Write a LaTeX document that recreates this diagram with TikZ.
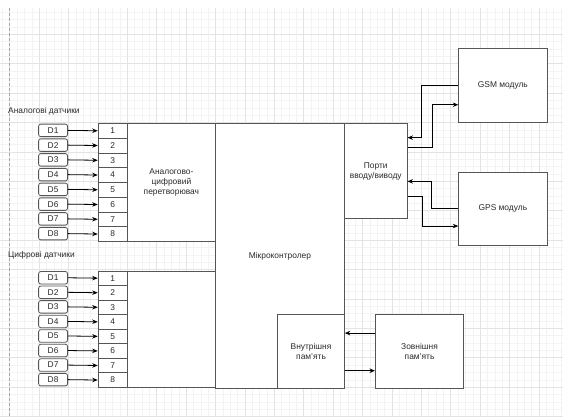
\documentclass[tikz,border=0pt]{standalone}
\usepackage{fontspec}
\setmainfont{Liberation Sans}
\usetikzlibrary{arrows.meta}
\definecolor{gridminor}{HTML}{F3F3F3}
\definecolor{gridmajor}{HTML}{E3E3E3}
\definecolor{boxline}{HTML}{555555}
\definecolor{txt}{HTML}{2A2A2A}
\tikzset{
  base/.style={draw=boxline, line width=0.8pt, fill=white, inner sep=0pt, anchor=north west,
    text=txt, font=\fontsize{8.4}{10}\selectfont, align=center},
  sensor/.style={base, rounded corners=2.2pt, minimum width=29pt, minimum height=12.5pt},
  pin/.style={base, minimum width=29.3pt},
  arr/.style={draw=black, line width=0.8pt, -{Stealth[length=5.5pt,width=4.5pt]}},
  lbl/.style={inner sep=0pt, anchor=west, text=txt, font=\fontsize{8.4}{10}\selectfont},
}
\begin{document}
\begin{tikzpicture}[x=1pt,y=-1pt]
\useasboundingbox (0,0) rectangle (563,416);
\fill[white] (0,0) rectangle (563,416);
\begin{scope}
\clip (0,8) rectangle (563,416);
\foreach \i in {-1,...,76} \draw[gridminor, line width=0.5pt] ({9.7+7.35*\i},8) -- ({9.7+7.35*\i},416);
\foreach \j in {-3,...,53} \draw[gridminor, line width=0.5pt] (0,{34.3+7.35*\j}) -- (563,{34.3+7.35*\j});
\foreach \k in {0,...,19} \draw[gridmajor, line width=0.6pt] ({9.7+29.4*\k},8) -- ({9.7+29.4*\k},416);
\foreach \k in {0,...,13} \draw[gridmajor, line width=0.6pt] (0,{34.3+29.4*\k}) -- (563,{34.3+29.4*\k});
\end{scope}
\draw[gray!70, line width=0.6pt, dash pattern=on 3pt off 2pt] (9.5,8) -- (9.5,416);

% labels
\node[lbl] (alab) at (8,111) {Аналогові датчики};
\node[lbl] (dlab) at (8,255.7) {Цифрові датчики};

% analog sensors
\foreach \i in {1,...,8} {
  \node[pin, minimum height=14.75pt] (ap\i) at (97.7,{123+14.75*(\i-1)}) {\i};
  \node[sensor, anchor=east] (as\i) at (68,{123+14.75*(\i-0.5)}) {D\i};
  \draw[arr] (as\i.east) -- (ap\i.west);
}
\node[base, minimum width=88pt, minimum height=118pt] (adc) at (127,123) {Аналогово-\\цифровий\\перетворювач};

% digital sensors
\foreach \i in {1,...,8} {
  \node[pin, minimum height=14.55pt] (dp\i) at (97.7,{270.5+14.55*(\i-1)}) {\i};
  \node[sensor, anchor=east] (ds\i) at (68,{270.5+14.55*(\i-0.5)}) {D\i};
  \draw[arr] (ds\i.east) -- (dp\i.west);
}
\node[base, minimum width=88pt, minimum height=116.4pt] (dig) at (127,270.5) {};

% microcontroller
\node[base, minimum width=129pt, minimum height=265pt] (mcu) at (215,123) {Мікроконтролер};
\node[base, minimum width=62.7pt, minimum height=95.3pt] (ports) at (344,123) {Порти\\вводу/виводу};
\node[base, minimum width=66.7pt, minimum height=74pt] (int) at (277.3,314.3) {Внутрішня\\пам’ять};
\node[base, minimum width=88.3pt, minimum height=74pt] (ext) at (375,314.3) {Зовнішня\\пам’ять};
\node[base, minimum width=88.4pt, minimum height=74pt] (gsm) at (458.3,48.3) {GSM модуль};
\node[base, minimum width=88.4pt, minimum height=73.3pt] (gps) at (458.3,171.7) {GPS модуль};

% connectors
\draw[arr] (gsm.west) -- ++(-36.6,0) |- ([yshift=33.4pt]ports.east);
\draw[arr] ([yshift=24pt]ports.east) -- ++(25,0) |- ([yshift=-19pt]gsm.west);
\draw[arr] (gps.west) -- ++(-26.6,0) |- ([yshift=-10.3pt]ports.east);
\draw[arr] ([yshift=-25pt]ports.east) -- ++(15,0) |- ([yshift=-17.3pt]gps.west);
\draw[arr] ([yshift=18.6pt]ext.west) -- ([yshift=18.6pt]int.east);
\draw[arr] ([yshift=-19pt]int.east) -- ([yshift=-19pt]ext.west);
\end{tikzpicture}
\end{document}
